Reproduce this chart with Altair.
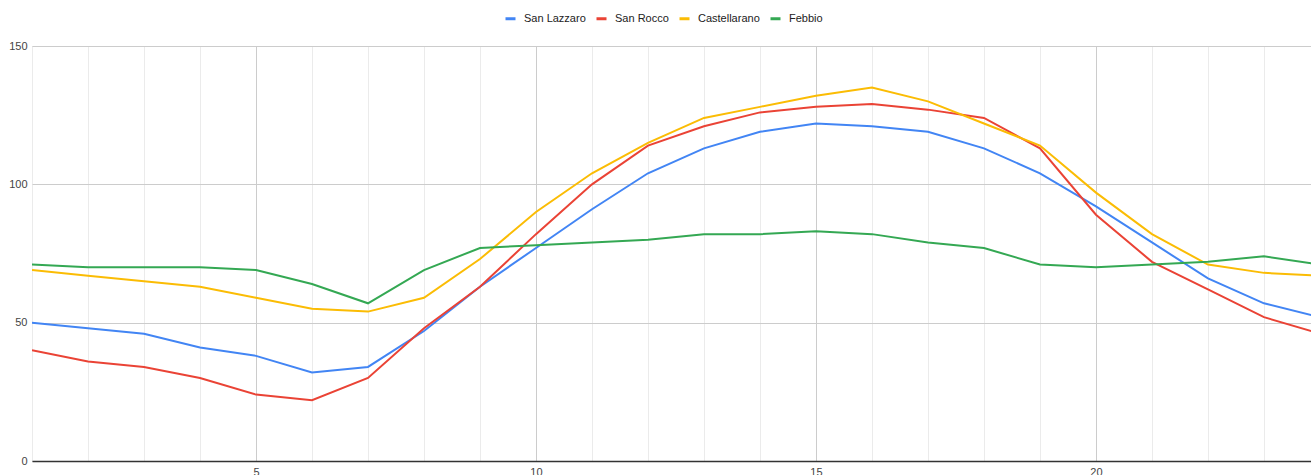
import altair as alt
import pandas as pd

hours = list(range(1, 25))
san_lazzaro = [50, 48, 46, 41, 38, 32, 34, 47, 63, 77, 91, 104, 113, 119, 122, 121, 119, 113, 104, 92, 79, 66, 57, 52]
san_rocco = [40, 36, 34, 30, 24, 22, 30, 48, 63, 82, 100, 114, 121, 126, 128, 129, 127, 124, 113, 89, 72, 62, 52, 46]
castellarano = [69, 67, 65, 63, 59, 55, 54, 59, 73, 90, 104, 115, 124, 128, 132, 135, 130, 122, 114, 97, 82, 71, 68, 67]
febbio = [71, 70, 70, 70, 69, 64, 57, 69, 77, 78, 79, 80, 82, 82, 83, 82, 79, 77, 71, 70, 71, 72, 74, 71]

series_names = ["San Lazzaro", "San Rocco", "Castellarano", "Febbio"]
series_values = [san_lazzaro, san_rocco, castellarano, febbio]
series_colors = ["#4285F4", "#EA4335", "#FBBC04", "#34A853"]

rows = []
for order, (name, values) in enumerate(zip(series_names, series_values)):
    for h, v in zip(hours, values):
        rows.append({"ora": h, "valore": v, "stazione": name, "ordine": order})
df = pd.DataFrame(rows)

FONT = "Arial, Liberation Sans, sans-serif"

chart = (
    alt.Chart(df)
    .mark_line(strokeWidth=2, clip=True)
    .encode(
        x=alt.X(
            "ora:Q",
            scale=alt.Scale(domain=[1, 23.84], nice=False, zero=False),
            axis=alt.Axis(
                title=None,
                values=list(range(1, 24)),
                labelExpr="datum.value % 5 === 0 ? datum.label : ''",
                gridColor=alt.condition(
                    "datum.value % 5 === 0", alt.value("#cccccc"), alt.value("#ebebeb")
                ),
                gridWidth=1,
                ticks=False,
                domainColor="#333333",
                domainWidth=1.5,
                labelPadding=5,
                labelFontSize=11,
                labelColor="#444444",
                labelFont=FONT,
            ),
        ),
        y=alt.Y(
            "valore:Q",
            scale=alt.Scale(domain=[0, 150], nice=False),
            axis=alt.Axis(
                title=None,
                values=[0, 50, 100, 150],
                gridColor="#cccccc",
                gridWidth=1,
                ticks=False,
                domain=False,
                labelPadding=5,
                labelFontSize=11,
                labelColor="#444444",
                labelFont=FONT,
            ),
        ),
        color=alt.Color(
            "stazione:N",
            sort=series_names,
            scale=alt.Scale(domain=series_names, range=series_colors),
            legend=alt.Legend(
                title=None,
                orient="none",
                direction="horizontal",
                legendX=472,
                legendY=-34,
                symbolType="stroke",
                symbolStrokeWidth=3,
                symbolSize=100,
                labelFontSize=11,
                labelColor="#222222",
                labelFont=FONT,
                labelOffset=7,
                columnPadding=4,
                padding=0,
            ),
        ),
        order=alt.Order("ordine:Q"),
    )
    .properties(
        width=1279,
        height=415,
        autosize=alt.AutoSizeParams(type="none"),
        padding={"left": 32, "top": 46, "right": 0, "bottom": 14},
    )
    .configure_view(stroke=None)
    .configure(background="white")
)

chart.save("out.html", embed_options={"renderer": "svg", "actions": False})
